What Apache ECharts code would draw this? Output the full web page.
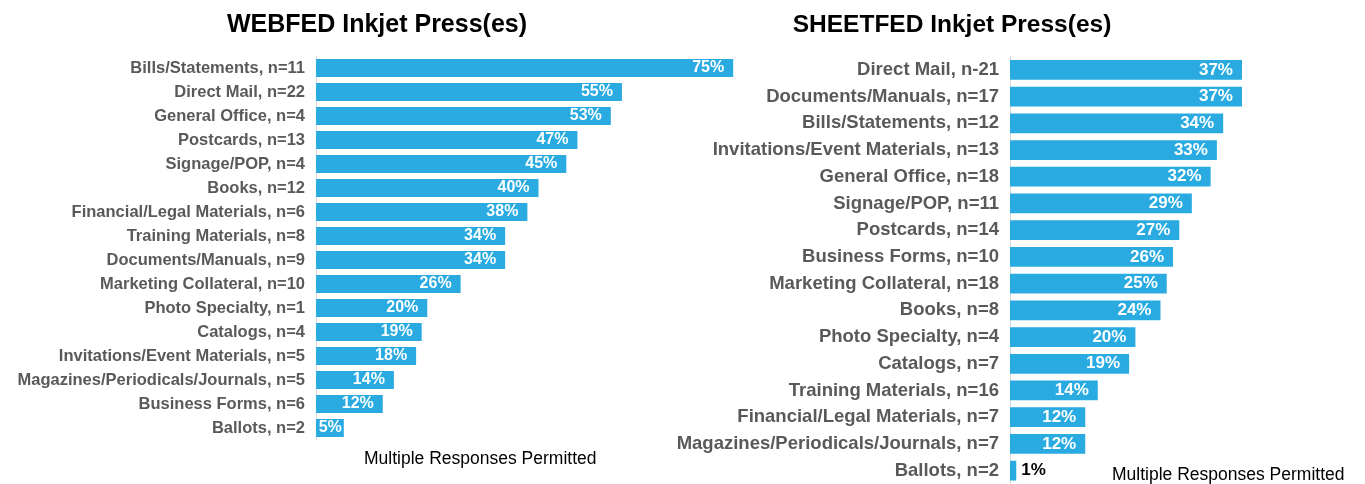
<!DOCTYPE html>
<html>
<head>
<meta charset="utf-8">
<script src="https://cdn.jsdelivr.net/npm/echarts@6/dist/echarts.min.js"></script>
<style>
html, body { margin: 0; padding: 0; background: #fff; }
#chart { width: 1365px; height: 484px; }
</style>
</head>
<body>
<div id="chart"></div>
<script>
var webCats = ['Bills/Statements, n=11', 'Direct Mail, n=22', 'General Office, n=4', 'Postcards, n=13',
  'Signage/POP, n=4', 'Books, n=12', 'Financial/Legal Materials, n=6', 'Training Materials, n=8',
  'Documents/Manuals, n=9', 'Marketing Collateral, n=10', 'Photo Specialty, n=1', 'Catalogs, n=4',
  'Invitations/Event Materials, n=5', 'Magazines/Periodicals/Journals, n=5', 'Business Forms, n=6', 'Ballots, n=2'];
var webVals = [75, 55, 53, 47, 45, 40, 38, 34, 34, 26, 20, 19, 18, 14, 12, 5];

var sheetCats = ['Direct Mail, n-21', 'Documents/Manuals, n=17', 'Bills/Statements, n=12', 'Invitations/Event Materials, n=13',
  'General Office, n=18', 'Signage/POP, n=11', 'Postcards, n=14', 'Business Forms, n=10',
  'Marketing Collateral, n=18', 'Books, n=8', 'Photo Specialty, n=4', 'Catalogs, n=7',
  'Training Materials, n=16', 'Financial/Legal Materials, n=7', 'Magazines/Periodicals/Journals, n=7', 'Ballots, n=2'];
var sheetVals = [37, 37, 34, 33, 32, 29, 27, 26, 25, 24, 20, 19, 14, 12, 12, 1];

var FONT = 'Arial, "Liberation Sans", sans-serif';
var BLUE = '#29abe2';

// tiny bars: label outside in black; short bars: label hugs the end
function barData(vals) {
  return vals.map(function (v) {
    if (v < 3) {
      return { value: v, label: { position: 'right', color: '#000', distance: 5 } };
    }
    if (v < 8) {
      return { value: v, label: { position: 'insideRight', distance: 2 } };
    }
    return v;
  });
}

function catAxis(idx, cats, fs) {
  return {
    type: 'category', gridIndex: idx, data: cats, inverse: true,
    axisLine: { lineStyle: { color: '#d9d9d9' } },
    axisTick: { lineStyle: { color: '#d9d9d9' }, length: 5 },
    axisLabel: { color: '#595959', fontFamily: FONT, fontWeight: 'bold', fontSize: fs, margin: 11 }
  };
}

function valAxis(idx, max) {
  return {
    type: 'value', gridIndex: idx, min: 0, max: max, show: false, splitLine: { show: false }
  };
}

function barSeries(idx, vals, gap, fs) {
  return {
    type: 'bar', xAxisIndex: idx, yAxisIndex: idx, data: barData(vals),
    barCategoryGap: gap,
    itemStyle: { color: BLUE },
    label: {
      show: true, position: 'insideRight', distance: 9, formatter: '{c}%',
      color: '#fff', fontFamily: FONT, fontWeight: 'bold', fontSize: fs
    }
  };
}

var option = {
  animation: false,
  backgroundColor: '#fff',
  title: [
    { text: 'WEBFED Inkjet Press(es)', left: 372, top: 8, textAlign: 'center',
      textStyle: { fontFamily: FONT, fontWeight: 'bold', fontSize: 25, color: '#000' } },
    { text: 'SHEETFED Inkjet Press(es)', left: 947, top: 8, textAlign: 'center',
      textStyle: { fontFamily: FONT, fontWeight: 'bold', fontSize: 24.5, color: '#000' } }
  ],
  grid: [
    { left: 316, top: 56, width: 445, height: 384 },
    { left: 1010, top: 56.5, width: 313.5, height: 432 }
  ],
  xAxis: [valAxis(0, 80), valAxis(1, 50)],
  yAxis: [catAxis(0, webCats, 16.5), catAxis(1, sheetCats, 18.5)],
  series: [barSeries(0, webVals, '25%', 16), barSeries(1, sheetVals, '26%', 17)],
  graphic: [
    { type: 'text', left: 364, top: 450,
      style: { text: 'Multiple Responses Permitted', fontFamily: FONT, fontSize: 17.5, fill: '#000' } },
    { type: 'text', left: 1112, top: 466,
      style: { text: 'Multiple Responses Permitted', fontFamily: FONT, fontSize: 17.5, fill: '#000' } }
  ]
};

var chart = echarts.init(document.getElementById('chart'));
chart.setOption(option);
</script>
</body>
</html>
